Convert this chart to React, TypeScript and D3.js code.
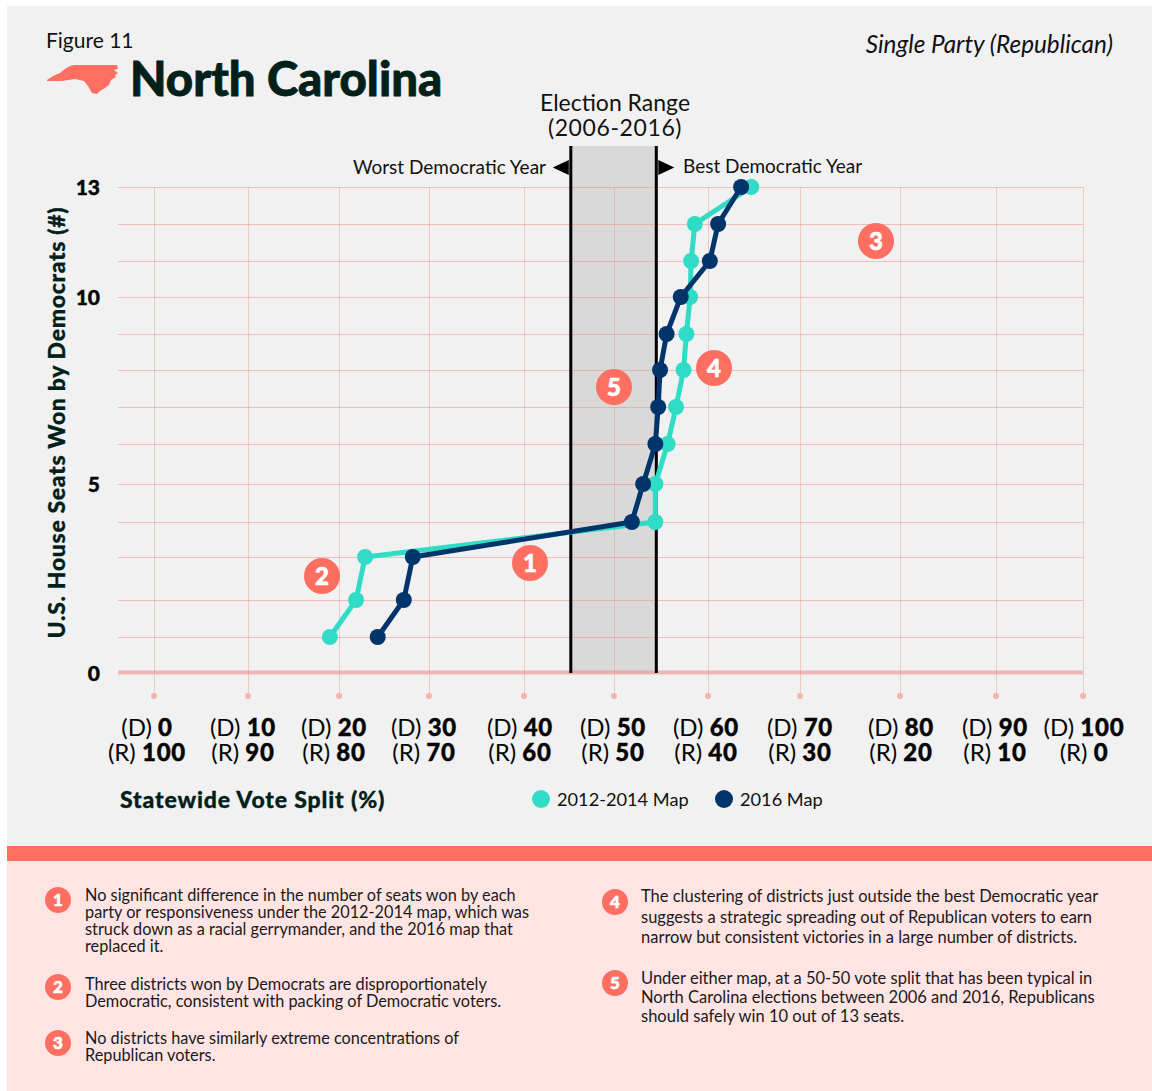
import React from "react";
import * as d3 from "d3";

const FONT = "Lato, 'Open Sans', sans-serif";
const DARK = "#02201a";
const CORAL = "#ff6f61";
const TEAL = "#30dcc5";
const NAVY = "#00356b";

// Data
const seats = [1, 2, 3, 4, 5, 6, 7, 8, 9, 10, 11, 12, 13];
const map2012 = [19.0, 21.9, 22.9, 54.4, 54.4, 55.7, 56.6, 57.4, 57.7, 58.1, 58.2, 58.6, 64.7];
const map2016 = [24.3, 27.2, 28.2, 51.9, 53.1, 54.4, 54.7, 54.9, 55.6, 57.1, 60.2, 61.1, 63.6];
const electionRange = [45.2, 54.5];
const xTicks = [0, 10, 20, 30, 40, 50, 60, 70, 80, 90, 100];
const yGrid = [0, 1, 2, 3, 4, 5, 6, 7, 8, 9, 10, 11, 12, 13];
const yLabels = [0, 5, 10, 13];
const notesLeft = [
  { n: 1, lines: ["No significant difference in the number of seats won by each", "party or responsiveness under the 2012-2014 map, which was", "struck down as a racial gerrymander, and the 2016 map that", "replaced it."] },
  { n: 2, lines: ["Three districts won by Democrats are disproportionately", "Democratic, consistent with packing of Democratic voters."] },
  { n: 3, lines: ["No districts have similarly extreme concentrations of", "Republican voters."] },
];
const notesRight = [
  { n: 4, lines: ["The clustering of districts just outside the best Democratic year", "suggests a strategic spreading out of Republican voters to earn", "narrow but consistent victories in a large number of districts."] },
  { n: 5, lines: ["Under either map, at a 50-50 vote split that has been typical in", "North Carolina elections between 2006 and 2016, Republicans", "should safely win 10 out of 13 seats."] },
];

// Layout: the source's grid is hand-spaced, so scales are piecewise linear
const x = d3.scaleLinear().domain(xTicks).range([154, 248, 339, 429, 524, 614, 708, 800, 900, 996, 1083]);
const y = d3.scaleLinear().domain(yGrid).range([673, 637, 600, 557, 522, 484, 444, 407, 370, 334, 297, 261, 224, 187]);
const labelX = d3.scaleLinear().domain(xTicks).range([147, 243, 334, 424, 520, 613, 706, 800, 901, 995, 1084]);

const calloutPos = [
  { n: 1, cx: 530, cy: 563 },
  { n: 2, cx: 322, cy: 576 },
  { n: 3, cx: 876, cy: 241 },
  { n: 4, cx: 714, cy: 368 },
  { n: 5, cx: 614, cy: 387 },
];

const line = d3.line<[number, number]>().x((d) => x(d[0])).y((d) => y(d[1]));
const series = (vals: number[]) => vals.map((v, i) => [v, seats[i]] as [number, number]);

const ncPath = "M47,80 L53,76 L60,73 L65,69 L70,66 L74,65 L117,65 L118,69 L114,70 L118,73 L115,75 L116,77 L111,80 L109,85 L105,88 L100,91 L97,94 L92,93 L88,86 L84,81 L75,79 L62,81 L47,81 Z";

function Badge({ cx, cy, r, n, fs }: { cx: number; cy: number; r: number; n: number; fs: number }) {
  return (
    <g>
      <circle cx={cx} cy={cy} r={r} fill={CORAL} />
      <text x={cx} y={cy + fs * 0.36} textAnchor="middle" fontSize={fs} fontWeight={900} fill="#fff" stroke="#fff" strokeWidth={0.6}>{n}</text>
    </g>
  );
}

function Note({ x: tx, y0, lh, lines, size }: { x: number; y0: number; lh: number; lines: string[]; size: number }) {
  return (
    <text fontSize={size} fill="#1a1a1a">
      {lines.map((l, i) => (
        <tspan key={i} x={tx} y={y0 + i * lh}>{l}</tspan>
      ))}
    </text>
  );
}

export default function App() {
  const noteY: Record<number, { b: number; lh: number }> = {
    1: { b: 901, lh: 17 },
    2: { b: 990, lh: 17 },
    3: { b: 1044, lh: 17 },
    4: { b: 902, lh: 20.5 },
    5: { b: 984, lh: 19 },
  };
  const badgeY: Record<number, number> = { 1: 900, 2: 987, 3: 1043, 4: 902, 5: 983 };
  return (
    <svg width={1152} height={1091} style={{ position: "absolute", left: 0, top: 0, display: "block" }} fontFamily={FONT}>
      <rect x={0} y={0} width={1152} height={1091} fill="#fff" />
      <rect x={7} y={6} width={1145} height={840} fill="#f1f1f1" />
      <rect x={7} y={846} width={1145} height={15} fill={CORAL} />
      <rect x={7} y={861} width={1145} height={230} fill="#ffe4e4" />

      <text x={46} y={48} fontSize={21} fill="#111">Figure 11</text>
      <path d={ncPath} fill={CORAL} />
      <text x={130} y={96} fontSize={47.3} fontWeight={900} fill={DARK} stroke={DARK} strokeWidth={0.8}>North Carolina</text>
      <text x={1113} y={53} fontSize={24.3} fontStyle="italic" textAnchor="end" fill="#111">Single Party (Republican)</text>

      {/* election band */}
      <rect x={x(electionRange[0])} y={146} width={x(electionRange[1]) - x(electionRange[0])} height={y(0) - 146} fill="#d9d9d9" />

      {/* grid */}
      {yGrid.filter((d) => d !== 0).map((d) => (
        <line key={d} x1={118} x2={1083} y1={y(d) + 0.5} y2={y(d) + 0.5} stroke="#f08a80" strokeOpacity={0.5} strokeWidth={1} />
      ))}
      {xTicks.map((t) => (
        <g key={t}>
          <line x1={x(t) + 0.5} x2={x(t) + 0.5} y1={y(13)} y2={695} stroke="#f08a80" strokeOpacity={0.4} strokeWidth={1} />
          <circle cx={x(t)} cy={696} r={3} fill="#f2b5af" />
        </g>
      ))}
      <line x1={118} x2={1083} y1={672.5} y2={672.5} stroke="#e98f88" strokeOpacity={0.6} strokeWidth={4} />

      {/* band edges */}
      {electionRange.map((v) => (
        <line key={v} x1={x(v)} x2={x(v)} y1={146} y2={y(0)} stroke="#000" strokeWidth={3} />
      ))}
      <path d={`M${x(electionRange[0]) - 2},160 L${x(electionRange[0]) - 2},175 L${x(electionRange[0]) - 18},167.5 Z`} fill="#000" />
      <path d={`M${x(electionRange[1]) + 2},160 L${x(electionRange[1]) + 2},175 L${x(electionRange[1]) + 18},167.5 Z`} fill="#000" />

      <text x={615} y={111} fontSize={23} textAnchor="middle" fill="#111">Election Range</text>
      <text x={615} y={136} fontSize={23} letterSpacing={0.6} textAnchor="middle" fill="#111">(2006-2016)</text>
      <text x={546} y={174} fontSize={19} textAnchor="end" fill="#111">Worst Democratic Year</text>
      <text x={683} y={173} fontSize={19} fill="#111">Best Democratic Year</text>

      {/* series */}
      <path d={line(series(map2012)) ?? ""} fill="none" stroke={TEAL} strokeWidth={5} />
      {map2012.map((v, i) => <circle key={i} cx={x(v)} cy={y(seats[i])} r={8} fill={TEAL} />)}
      <path d={line(series(map2016)) ?? ""} fill="none" stroke={NAVY} strokeWidth={5} />
      {map2016.map((v, i) => <circle key={i} cx={x(v)} cy={y(seats[i])} r={8} fill={NAVY} />)}

      {calloutPos.map((c) => <Badge key={c.n} cx={c.cx} cy={c.cy} r={18} n={c.n} fs={24} />)}

      {/* y axis */}
      {yLabels.map((d) => (
        <text key={d} x={100} y={y(d) + 7.5} fontSize={21} fontWeight={900} textAnchor="end" fill="#050505" stroke="#050505" strokeWidth={0.4}>{d}</text>
      ))}
      <text transform="translate(65,422.5) rotate(-90)" fontSize={23} fontWeight={900} letterSpacing={0.67} textAnchor="middle" fill={DARK} stroke={DARK} strokeWidth={0.3}>U.S. House Seats Won by Democrats (#)</text>

      {/* x axis labels */}
      {xTicks.map((t) => (
        <g key={t} fontSize={24} textAnchor="middle" fill="#050505">
          <text x={labelX(t)} y={736}>(D) <tspan fontWeight={900} stroke="#050505" strokeWidth={0.4} letterSpacing={0.8}>{t}</tspan></text>
          <text x={labelX(t)} y={761}>(R) <tspan fontWeight={900} stroke="#050505" strokeWidth={0.4} letterSpacing={0.8}>{100 - t}</tspan></text>
        </g>
      ))}

      <text x={120} y={808} fontSize={23} fontWeight={900} letterSpacing={0.85} fill={DARK} stroke={DARK} strokeWidth={0.3}>Statewide Vote Split (%)</text>
      <circle cx={541} cy={799} r={9} fill={TEAL} />
      <text x={557} y={806} fontSize={18.2} fill="#111">2012-2014 Map</text>
      <circle cx={724} cy={799} r={9} fill={NAVY} />
      <text x={740} y={806} fontSize={18.2} fill="#111">2016 Map</text>

      {notesLeft.map((nt) => (
        <g key={nt.n}>
          <Badge cx={58} cy={badgeY[nt.n]} r={13} n={nt.n} fs={17} />
          <Note x={85} y0={noteY[nt.n].b} lh={noteY[nt.n].lh} lines={nt.lines} size={16.3} />
        </g>
      ))}
      {notesRight.map((nt) => (
        <g key={nt.n}>
          <Badge cx={615} cy={badgeY[nt.n]} r={13} n={nt.n} fs={17} />
          <Note x={641} y0={noteY[nt.n].b} lh={noteY[nt.n].lh} lines={nt.lines} size={16.5} />
        </g>
      ))}
    </svg>
  );
}
